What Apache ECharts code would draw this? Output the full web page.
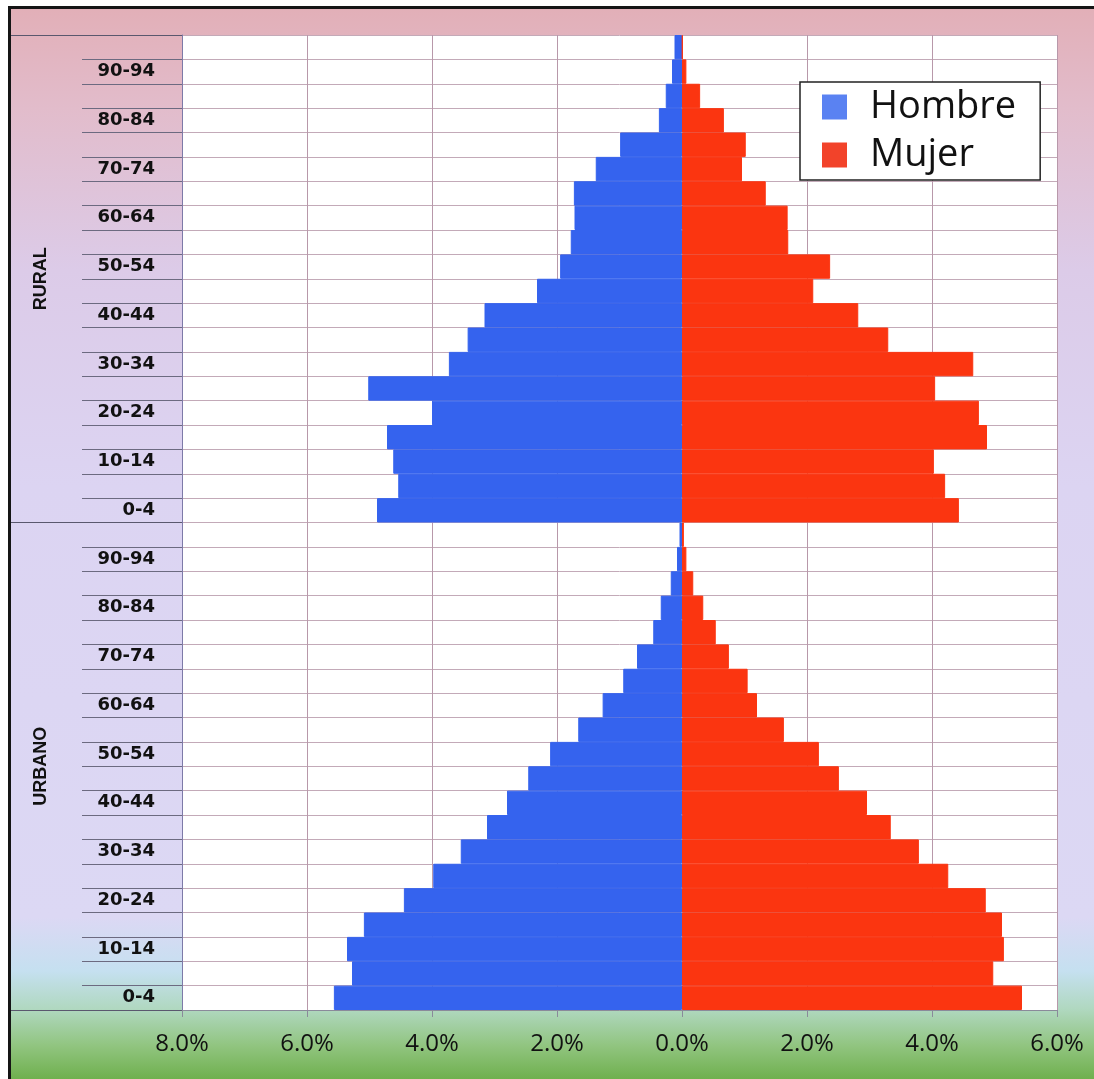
<!DOCTYPE html>
<html>
<head>
<meta charset="utf-8">
<script src="https://cdn.jsdelivr.net/npm/echarts@6/dist/echarts.min.js"></script>
<style>
html,body{margin:0;padding:0;background:#fff;}
#chart{position:absolute;left:0;top:0;width:1094px;height:1079px;}
.ov{position:absolute;pointer-events:none;}
</style>
</head>
<body>
<div id="chart"></div>
<div class="ov" style="left:0;top:0;width:8px;height:1079px;background:#fff"></div>
<div class="ov" style="left:0;top:0;width:1094px;height:6px;background:#fff"></div>
<div class="ov" style="left:8px;top:6px;width:3px;height:1073px;background:#151515"></div>
<div class="ov" style="left:8px;top:6px;width:1086px;height:3px;background:#151515"></div>
<script>
var ages = ['0-4','5-9','10-14','15-19','20-24','25-29','30-34','35-39','40-44','45-49',
            '50-54','55-59','60-64','65-69','70-74','75-79','80-84','85-89','90-94','95+'];
var groups = ['RURAL','URBANO'];
var xTicks = [-8,-6,-4,-2,0,2,4,6];

var ruralHombre  = [4.88,4.54,4.62,4.72,4.00,5.02,3.73,3.43,3.16,2.32,1.95,1.78,1.72,1.73,1.38,0.99,0.37,0.26,0.16,0.12];
var ruralMujer   = [4.43,4.21,4.03,4.88,4.75,4.05,4.66,3.30,2.82,2.10,2.37,1.70,1.69,1.34,0.96,1.02,0.67,0.29,0.07,0.01];
var urbanoHombre = [5.57,5.28,5.36,5.09,4.45,3.98,3.54,3.12,2.80,2.46,2.11,1.66,1.27,0.94,0.72,0.46,0.34,0.18,0.08,0.04];
var urbanoMujer  = [5.44,4.98,5.15,5.12,4.86,4.26,3.79,3.34,2.96,2.51,2.19,1.63,1.20,1.05,0.75,0.54,0.34,0.18,0.07,0.03];

var BLUE = '#3563ee', RED = '#fb3510';
var gridLine = '#c3aab8';

function neg(a){ return a.map(function(v){ return -v; }); }

function xAxis(gridIndex, showLabels){
  return {
    type:'value', gridIndex:gridIndex, min:xTicks[0], max:xTicks[xTicks.length-1], interval:2,
    axisLine:{show:showLabels, onZero:false, lineStyle:{color:'#8a8a9a'}},
    axisTick:{show:showLabels, length:7, lineStyle:{color:'#8a8a9a'}},
    axisLabel:{show:showLabels, margin:22, color:'#111', fontSize:24, fontFamily:'Open Sans',
      formatter:function(v){ return Math.abs(v).toFixed(1)+'%'; }},
    splitLine:{show:true, lineStyle:{color:'#b898aa', width:1}}
  };
}
function ageAxis(gridIndex){
  return {
    type:'category', gridIndex:gridIndex, data:ages, position:'left', boundaryGap:true,
    axisLine:{show:true, onZero:false, lineStyle:{color:'#7d7aa8'}},
    axisTick:{show:true, interval:0, length:100, lineStyle:{color:'#6c6a80'}},
    axisLabel:{interval:1, margin:27, color:'#111', fontSize:18, fontWeight:'bold', fontFamily:'DejaVu Sans'},
    splitLine:{show:true, interval:0, lineStyle:{color:gridLine, width:1}}
  };
}
function groupAxis(gridIndex, name){
  return {
    type:'category', gridIndex:gridIndex, data:[name], position:'left', boundaryGap:true,
    axisLine:{show:false, onZero:false},
    axisTick:{show:true, interval:0, length:172, lineStyle:{color:'#5a586e'}},
    axisLabel:{rotate:90, margin:132, color:'#111', fontSize:18, fontWeight:'bold', fontFamily:'Liberation Sans'},
    splitLine:{show:false}
  };
}
function bar(name, data, xi, yi, color){
  return {
    type:'bar', name:name, data:data, xAxisIndex:xi, yAxisIndex:yi,
    barWidth:'100%', barGap:'-100%',
    itemStyle:{color:color, borderColor:color, borderWidth:1}, silent:true
  };
}

var chart = echarts.init(document.getElementById('chart'), null, {renderer:'canvas'});
chart.setOption({
  animation:false,
  backgroundColor: new echarts.graphic.LinearGradient(0,0,0,1,[
    {offset:0, color:'#e2aeb6'},
    {offset:0.1, color:'#e2bccb'},
    {offset:0.25, color:'#dccbe8'},
    {offset:0.45, color:'#dcd4f2'},
    {offset:0.85, color:'#dcd8f4'},
    {offset:0.9, color:'#c5e0f0'},
    {offset:0.935, color:'#b0d8c0'},
    {offset:0.97, color:'#90c47e'},
    {offset:1, color:'#6fb04e'}
  ]),
  legend:{
    show:true, orient:'vertical', left:800, top:82,
    data:[{name:'Hombre', itemStyle:{color:'#5a82f2', borderWidth:0}},{name:'Mujer', itemStyle:{color:'#f2432a', borderWidth:0}}],
    icon:'rect', itemWidth:25, itemHeight:25, itemGap:10,
    padding:[6,24,6,22],
    backgroundColor:'#fff', borderColor:'#222', borderWidth:1.5,
    textStyle:{fontSize:38, lineHeight:36, color:'#111', fontFamily:'Open Sans', padding:[0,0,0,18]},
    selectedMode:false
  },
  grid:[
    {left:182, width:875, top:35, height:487.5, show:true, backgroundColor:'#fff', borderWidth:0, containLabel:false},
    {left:182, width:875, top:522.5, height:487.5, show:true, backgroundColor:'#fff', borderWidth:0, containLabel:false}
  ],
  xAxis:[ xAxis(0,false), xAxis(1,true) ],
  yAxis:[ ageAxis(0), groupAxis(0, groups[0]), ageAxis(1), groupAxis(1, groups[1]) ],
  series:[
    bar('Hombre', neg(ruralHombre), 0, 0, BLUE),
    bar('Mujer', ruralMujer, 0, 0, RED),
    bar('Hombre', neg(urbanoHombre), 1, 2, BLUE),
    bar('Mujer', urbanoMujer, 1, 2, RED)
  ]
});
</script>
</body>
</html>
